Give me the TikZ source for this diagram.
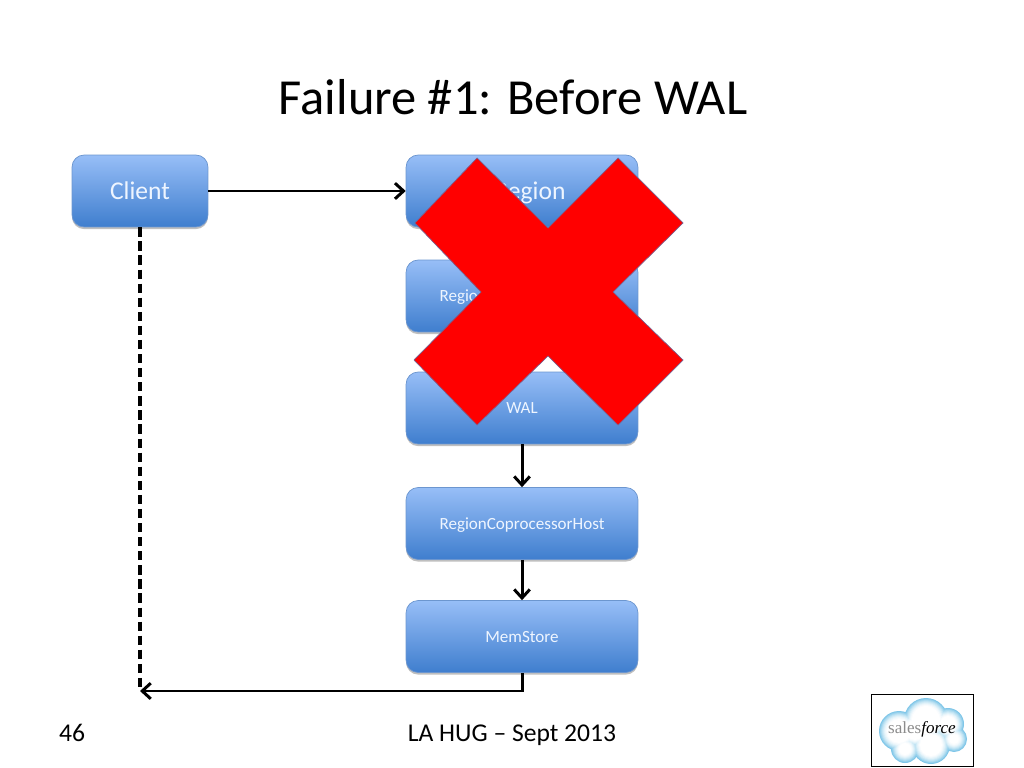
\documentclass[tikz,border=0pt]{standalone}
\usepackage{fontspec}
\setmainfont{Carlito}
\newfontfamily\logofont{Liberation Serif}
\usetikzlibrary{arrows.meta,shadows}

\definecolor{boxtop}{HTML}{97BEF7}
\definecolor{boxbot}{HTML}{3F7ECE}
\definecolor{boxline}{HTML}{6C96CF}
\definecolor{boxtext}{HTML}{EEF5FF}
\definecolor{crossred}{HTML}{FF0000}
\definecolor{crossline}{HTML}{7D5F8C}
\definecolor{cloudout}{HTML}{7FC6E8}

\begin{document}
\begin{tikzpicture}[x=0.703125pt,y=-0.703125pt]
   \tikzstyle{box}=[draw=boxline, line width=0.5pt, rounded corners=8.5pt, top color=boxtop, bottom color=boxbot,
      text=boxtext, minimum height=50.6pt, inner sep=0pt, text depth=0pt,
      drop shadow={shadow xshift=0pt, shadow yshift=-1.5pt, opacity=0.25, fill=black}]
   \tikzstyle{big}=[box, text height=12pt, font=\fontsize{18}{22}\selectfont]
   \tikzstyle{wide}=[box, minimum width=163pt, text height=8pt, font=\fontsize{12}{14}\selectfont]
   \tikzstyle{link}=[draw, black, line width=2.1pt, -{Straight Barb[length=6pt,width=11pt]}]
   \tikzstyle{footer}=[inner sep=0pt, anchor=base, font=\fontsize{18}{22}\selectfont]

\useasboundingbox (0,0) rectangle (1024,768);

\node[inner sep=0pt, anchor=base, font=\fontsize{35.5}{44}\selectfont] (title) at (513,115) {Failure \#1: Before WAL};

\node[big, minimum width=95.6pt] (client) at (140,191) {Client};
\node[big, minimum width=163pt] (region) at (522,191) {HRegion};
\node[wide] (coproc1) at (522,296) {RegionCoprocessorHost};
\node[wide] (wal) at (522,408) {WAL};
\node[wide] (coproc2) at (522,523.5) {RegionCoprocessorHost};
\node[wide] (memstore) at (522,636.5) {MemStore};

\coordinate (back) at (140,691);

\draw[link] (client) -- (region);
\draw[link] (wal) -- (coproc2);
\draw[link] (coproc2) -- (memstore);
\draw[link] (memstore.south) |- (back);
\draw[black, line width=3pt, dash pattern=on 6.5pt off 3.4pt] (client.south) -- (back);

% the big cross
\draw[fill=crossred, draw=crossline, line width=0.5pt, line join=round]
   (477,158) -- (548,228) -- (618,158) -- (683,223) -- (613,292) -- (683,360) -- (618,425)
   -- (548,356) -- (477,425) -- (414,360) -- (481,292) -- (415,223) -- cycle;

\node[footer] (page) at (72,741) {46};
\node[footer] (event) at (512,741) {LA HUG -- Sept 2013};

% logo
\node[draw=black, line width=0.7pt, minimum width=71.7pt, minimum height=50pt, inner sep=0pt] (logo) at (922,730.5) {};
\foreach \d/\c in {0/100,1/82,2/64,3/48,4/34,5/22,6/12,7/5,8/0}
   \fill[cloudout!\c!white] (899,731) circle ({20-\d}) (926,720) circle ({22-\d}) (948,724) circle ({16-\d})
      (954,739) circle ({13-\d}) (931,745) circle ({19-\d}) (905,749) circle ({14-\d}) (915,730) circle ({18-\d});
\node[inner sep=0pt, text=black!45, font=\logofont\fontsize{12}{14}\selectfont] (logotext) at (922,729)
   {sales\textcolor{black}{\textit{force}}};

\end{tikzpicture}
\end{document}
